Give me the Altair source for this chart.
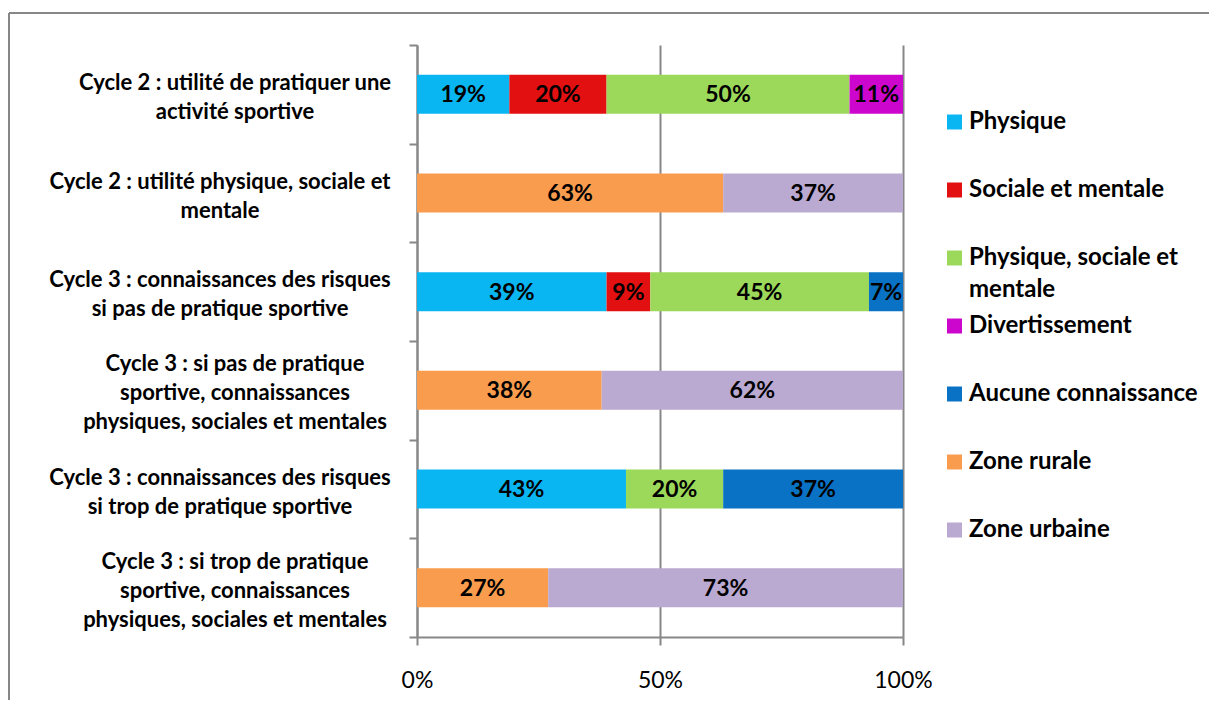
import altair as alt
import pandas as pd

categories = [
    "Cycle 2 : utilité de pratiquer une\nactivité sportive",
    "Cycle 2 : utilité physique, sociale et\nmentale",
    "Cycle 3 : connaissances des risques\nsi pas de pratique sportive",
    "Cycle 3 : si pas de pratique\nsportive, connaissances\nphysiques, sociales et mentales",
    "Cycle 3 : connaissances des risques\nsi trop de pratique sportive",
    "Cycle 3 : si trop de pratique\nsportive, connaissances\nphysiques, sociales et mentales",
]

series = [
    "Physique",
    "Sociale et mentale",
    "Physique, sociale et mentale",
    "Divertissement",
    "Aucune connaissance",
    "Zone rurale",
    "Zone urbaine",
]
legend_labels = [
    "Physique",
    "Sociale et mentale",
    "Physique, sociale et\nmentale",
    "Divertissement",
    "Aucune connaissance",
    "Zone rurale",
    "Zone urbaine",
]
colors = ["#0AB6F2", "#E21010", "#9CD95A", "#CD06CD", "#0A72C4", "#FA9C4E", "#BAA9D0"]

physique = [19, None, 39, None, 43, None]
sociale = [20, None, 9, None, None, None]
phys_soc_ment = [50, None, 45, None, 20, None]
divertissement = [11, None, None, None, None, None]
aucune = [None, None, 7, None, 37, None]
zone_rurale = [None, 63, None, 38, None, 27]
zone_urbaine = [None, 37, None, 62, None, 73]

values_by_series = [physique, sociale, phys_soc_ment, divertissement, aucune, zone_rurale, zone_urbaine]

x_ticks = [0, 50, 100]

rows = []
for s_i, (name, vals) in enumerate(zip(series, values_by_series)):
    for c_i, v in enumerate(vals):
        if v is not None:
            rows.append({"cat": categories[c_i], "serie": name, "ord": s_i, "val": v})
df = pd.DataFrame(rows)
cat_df = pd.DataFrame({"cat": categories})
legend_df = pd.DataFrame({"serie": series, "label": legend_labels})

GRAY = "#878787"
FONT = "Lato"
YLAB_SIZE = 22
YLAB_LH = 29
# horizontal anchor (centre) of each category label, relative to the plot's left edge
ylab_center = [-182, -197, -197, -182, -197, -182]

color_scale = alt.Scale(domain=series, range=colors)

y_enc = alt.Y(
    "cat:N",
    sort=categories,
    scale=alt.Scale(paddingInner=0, paddingOuter=0),
    axis=alt.Axis(
        title=None,
        labels=False,
        tickBand="extent",
        tickSize=8,
        tickWidth=2,
        tickColor=GRAY,
        domainColor=GRAY,
        domainWidth=2,
        grid=False,
    ),
)

x_scale = alt.Scale(domain=[0, 100], nice=False, zero=True)
x_axis = alt.Axis(
    title=None,
    values=x_ticks,
    labelExpr="datum.value + '%'",
    labelFont=FONT,
    labelFontSize=23,
    labelColor="#000000",
    labelPadding=24,
    labelFlush=False,
    tickSize=8,
    tickWidth=2,
    tickColor=GRAY,
    domainColor=GRAY,
    domainWidth=2,
    grid=True,
    gridColor=GRAY,
    gridWidth=2,
)

bars = alt.Chart(df).mark_bar(size=39).encode(
    y=y_enc,
    x=alt.X("val:Q", stack="zero", scale=x_scale, axis=x_axis),
    color=alt.Color("serie:N", scale=color_scale, legend=None),
    order=alt.Order("ord:Q"),
)

texts = alt.Chart(df).transform_stack(
    stack="val", groupby=["cat"], as_=["v0", "v1"], sort=[alt.SortField("ord", order="ascending")]
).transform_calculate(
    mid="(datum.v0 + datum.v1) / 2", txt="datum.val + '%'"
).mark_text(font=FONT, fontSize=23, fontWeight="bold", color="#000000", dy=1).encode(
    y=alt.Y("cat:N", sort=categories),
    x=alt.X("mid:Q", scale=x_scale),
    text="txt:N",
)

ylabel_layers = []
for i, cat in enumerate(categories):
    n_lines = len(cat.split("\n"))
    ylabel_layers.append(
        alt.Chart(cat_df).transform_filter(
            alt.FieldEqualPredicate(field="cat", equal=cat)
        ).mark_text(
            align="center", baseline="middle", lineBreak="\n",
            font=FONT, fontSize=YLAB_SIZE, fontWeight="bold", color="#000000",
            lineHeight=YLAB_LH, dy=3 - (n_lines - 1) * YLAB_LH / 2,
        ).encode(
            y=alt.Y("cat:N", sort=categories),
            x=alt.value(ylab_center[i]),
            text="cat:N",
        )
    )

main = alt.layer(bars, texts, *ylabel_layers)

leg_y = alt.Y(
    "serie:N",
    sort=series,
    scale=alt.Scale(type="point", padding=0, range=[77, 485]),
    axis=None,
)

leg_sq = alt.Chart(legend_df).mark_square(size=225, opacity=1, filled=True).encode(
    y=leg_y,
    x=alt.value(537.5),
    color=alt.Color("serie:N", scale=color_scale, legend=None),
)

leg_txt = alt.Chart(legend_df).mark_text(
    align="left", baseline="top", dy=-12, lineBreak="\n",
    font=FONT, fontSize=24, fontWeight="bold", color="#000000", lineHeight=32,
).encode(
    y=leg_y,
    x=alt.value(552),
    text="label:N",
)

frame_df = pd.DataFrame({"a": [1]})
border_top = alt.Chart(frame_df).mark_rule(stroke=GRAY, strokeWidth=2).encode(
    x=alt.value(-408), x2=alt.value(792), y=alt.value(-32)
)
border_left = alt.Chart(frame_df).mark_rule(stroke=GRAY, strokeWidth=2).encode(
    x=alt.value(-408), y=alt.value(-32), y2=alt.value(655)
)

legend_layer = alt.layer(leg_sq, leg_txt, border_top, border_left)

chart = alt.layer(main, legend_layer).resolve_scale(y="independent").properties(
    width=486,
    height=592,
    padding={"left": 0, "top": 4, "right": 0, "bottom": 0},
).configure_view(stroke=None)

chart.save("out.html", embed_options={"renderer": "svg", "actions": False})
